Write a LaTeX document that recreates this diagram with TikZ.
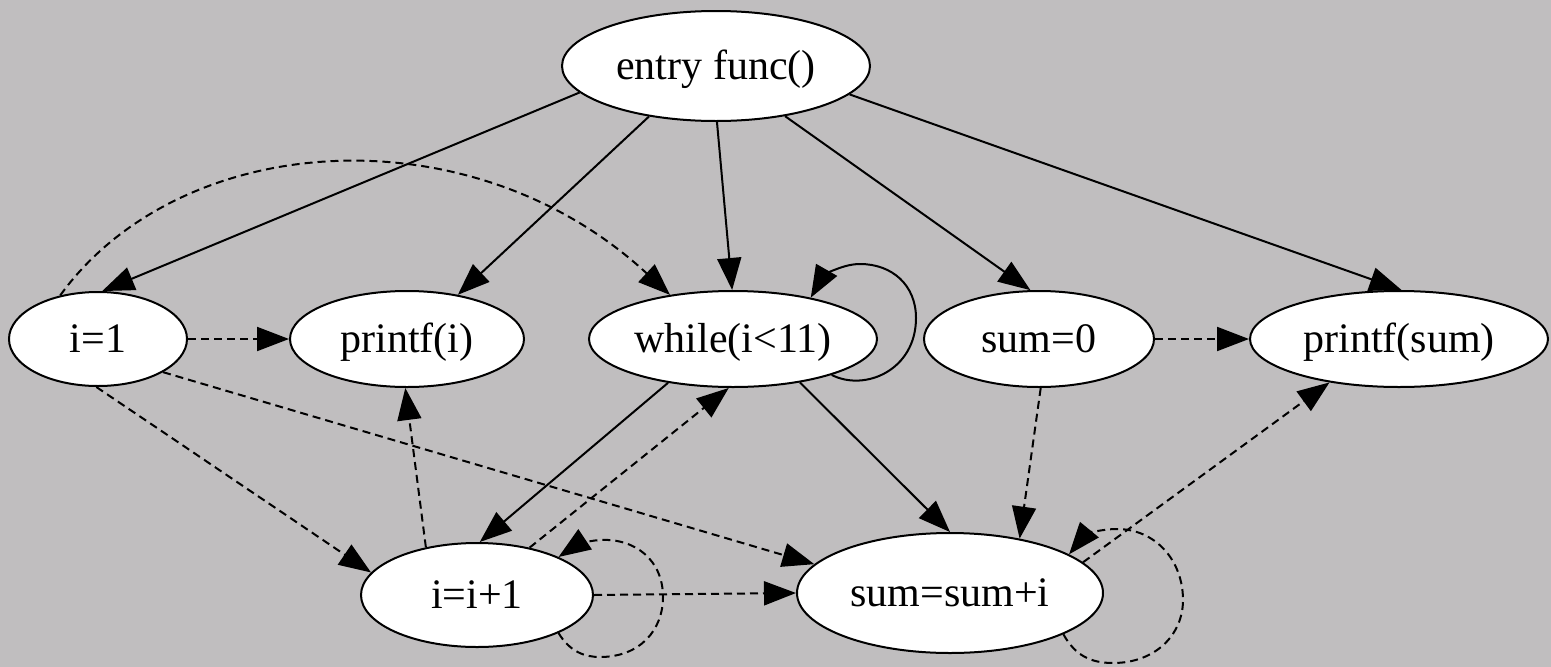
\documentclass[tikz,border=0pt]{standalone}
\usepackage{fontspec}
\setmainfont{Liberation Serif}
\usetikzlibrary{shapes.geometric,arrows.meta}
\definecolor{canvas}{RGB}{192,190,191}
\begin{document}
\begin{tikzpicture}[x=1pt,y=-1pt,
  state/.style={ellipse, draw, line width=2pt, fill=white, inner sep=0pt,
    text height=36pt, text depth=10pt, font=\fontsize{42}{48}\selectfont},
  flow/.style={line width=2pt, -{Triangle[length=32pt,width=24pt]}},
  dep/.style={flow, dash pattern=on 8pt off 5pt},
]
% canvas
\fill[canvas] (0,0) rectangle (1551,667);
\useasboundingbox (0,0) rectangle (1551,667);

% statements
\node[state, minimum width=308pt, minimum height=110pt] (entry) at (716,66) {entry func()};
\node[state, minimum width=178pt, minimum height=94pt] (i1) at (98,339) {i=1};
\node[state, minimum width=234pt, minimum height=96pt] (pi) at (407,339) {printf(i)};
\node[state, minimum width=288pt, minimum height=96pt] (wh) at (733,339) {while(i<11)};
\node[state, minimum width=230pt, minimum height=96pt] (s0) at (1039,339) {sum=0};
\node[state, minimum width=298pt, minimum height=96pt] (ps) at (1399,339) {printf(sum)};
\node[state, minimum width=232pt, minimum height=104pt] (ii) at (477,595) {i=i+1};
\node[state, minimum width=306pt, minimum height=120pt] (ss) at (950,593) {sum=sum+i};

% control dependences
\draw[flow] (entry.191) -- (i1.85);
\draw[flow] (entry.217) -- (pi.41);
\draw[flow] (entry.271) -- (wh.91);
\draw[flow] (entry.324) -- (s0.100);
\draw[flow] (entry.348) -- (ps.87);
\draw[flow] (wh.340) .. controls (865,392) and (916,370) .. (916,318)
  .. controls (916,285) and (892,264) .. (860,264)
  .. controls (840,264) and (822,278) .. (wh.28);
\draw[flow] (wh.214) -- (ii.87);
\draw[flow] (wh.327) -- (ss.90);

% data dependences
\draw[dep] (i1.131) .. controls (180,130) and (470,110) .. (wh.145);
\draw[dep] (i1.east) -- (pi.west);
\draw[dep] (i1.333) -- (ss.168);
\draw[dep] (i1.268) -- (ii.168);
\draw[dep] (ii.137) -- (pi.268);
\draw[dep] (ii.42) -- (wh.265);
\draw[dep] (ii.335) .. controls (570,652) and (585,657) .. (600,657)
  .. controls (640,657) and (663,630) .. (663,597)
  .. controls (663,560) and (635,538) .. (600,540)
  .. controls (585,541) and (575,546) .. (ii.25);
\draw[dep] (ii.east) -- (ss.west);
\draw[dep] (s0.272) -- (ss.38);
\draw[dep] (ss.13) -- (ps.212);
\draw[dep] (ss.340) .. controls (1075,655) and (1090,663) .. (1113,663)
  .. controls (1155,663) and (1183,635) .. (1183,600)
  .. controls (1183,560) and (1155,529) .. (1117,529)
  .. controls (1100,529) and (1085,535) .. (ss.18);
\draw[dep] (s0.east) -- (ps.west);
\end{tikzpicture}
\end{document}
